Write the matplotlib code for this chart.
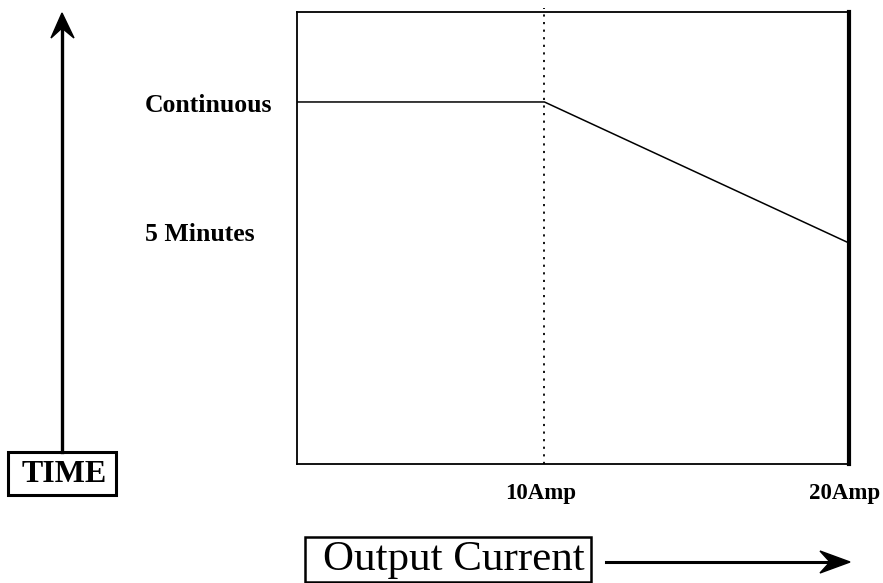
import matplotlib.pyplot as plt
import matplotlib.transforms as mtransforms
from matplotlib.patches import Rectangle, Polygon

plt.rcParams['font.family'] = ['Liberation Serif', 'DejaVu Serif']

# derating curve: output current (A) vs allowed time level
current = [0, 10, 20]
time_level = [2, 2, 1]
x_ticks = [10, 20]
x_labels = ['10Amp', '20Amp']
y_ticks = [1, 2]
y_labels = ['5 Minutes', 'Continuous']
y_label_shift = [9, -4]  # pixels up from the level line

W, H = 883, 583
fig = plt.figure(figsize=(W / 100, H / 100), dpi=100)

# axes box in pixels: left 297, right 849, top 12, bottom 464
ax = fig.add_axes([297 / W, (H - 464) / H, 552 / W, 452 / H])
ax.set_xlim(1.875, 20)
ax.set_ylim(-0.567, 2.638)

ax.plot(current, time_level, color='black', lw=1.1, clip_on=True)
ax.plot([10, 10], [-0.567, 2.665], color='black', lw=1.3,
        linestyle=(0, (1.2, 3)), clip_on=False)

for s in ['left', 'top', 'bottom']:
    ax.spines[s].set_linewidth(1.3)
ax.spines['right'].set_linewidth(3)

ax.set_xticks(x_ticks)
ax.set_xticklabels(x_labels, fontweight='bold', fontsize=16.5)
ax.tick_params(axis='x', length=0, pad=14)
shift = mtransforms.ScaledTranslation(-4 / 100, 0, fig.dpi_scale_trans)
for lab in ax.get_xticklabels():
    lab.set_transform(lab.get_transform() + shift)
ax.set_yticks([])

base = mtransforms.blended_transform_factory(fig.transFigure, ax.transData)
for yv, lab, sh in zip(y_ticks, y_labels, y_label_shift):
    tr = mtransforms.offset_copy(base, fig=fig, x=0, y=sh, units='dots')
    ax.text(145 / W, yv, lab, transform=tr, fontweight='bold', fontsize=18.5,
            ha='left', va='center')


def px(x, y):
    return (x / W, 1 - y / H)


# vertical TIME arrow
fig.add_artist(plt.Line2D([62 / W, 62 / W], [1 - 452 / H, 1 - 26 / H],
                          color='black', lw=2.4, transform=fig.transFigure))
fig.add_artist(Polygon([px(62, 13), px(51, 38), px(62, 28), px(74, 38)],
                       closed=True, color='black', transform=fig.transFigure))

# TIME box
fig.add_artist(Rectangle(px(8, 495), 108 / W, 43 / H, fill=False, lw=2.2,
                         edgecolor='black', transform=fig.transFigure))
fig.text(64 / W, 1 - 474 / H, 'TIME', fontweight='bold', fontsize=23,
         ha='center', va='center')

# Output Current box and arrow
fig.add_artist(Rectangle(px(305, 582), 286 / W, 45 / H, fill=False, lw=1.8,
                         edgecolor='black', transform=fig.transFigure))
fig.text(454 / W, 1 - 560 / H, 'Output Current', fontsize=31,
         ha='center', va='center')
fig.add_artist(plt.Line2D([606 / W, 840 / W], [1 - 562 / H, 1 - 562 / H],
                          color='black', lw=2.2, transform=fig.transFigure))
fig.add_artist(Polygon([px(850, 562), px(820, 551), px(830, 562), px(820, 573)],
                       closed=True, color='black', transform=fig.transFigure))

fig.savefig('out.png', dpi=100)
